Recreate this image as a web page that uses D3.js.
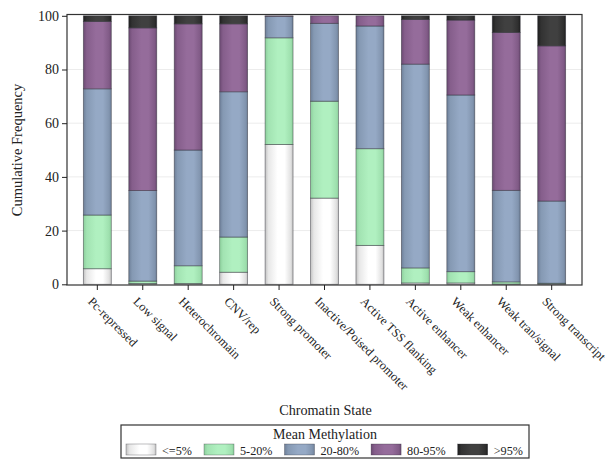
<!DOCTYPE html>
<html><head><meta charset="utf-8">
<script src="https://cdn.jsdelivr.net/npm/d3@7"></script>
<style>body{margin:0;background:#fff}svg{display:block}text{font-family:"Liberation Serif","DejaVu Serif",serif;fill:#222}</style>
</head><body><svg id="c" width="614" height="471"></svg>
<script>
const categories = ["Pc-repressed","Low signal","Heterochromain","CNV/rep","Strong promoter","Inactive/Poised promoter","Active TSS flanking","Active enhancer","Weak enhancer","Weak tran/signal","Strong transcript"];
const seriesNames = ["<=5%","5-20%","20-80%","80-95%",">95%"];
// percentages per methylation class (each bar sums to 100)
const le5   = [5.8, 0.3, 0.3, 4.5, 52.1, 32.1, 14.5, 0.5, 0.5, 0.1, 0.1];
const p5_20 = [20.0, 0.9, 6.6, 13.1, 39.7, 36.1, 36.0, 5.6, 4.2, 0.8, 0.3];
const p20_80= [47.0, 33.7, 43.1, 54.1, 8.0, 29.0, 45.7, 75.9, 65.8, 34.1, 30.6];
const p80_95= [25.1, 60.6, 47.0, 25.3, 0.2, 2.8, 3.8, 16.6, 27.9, 58.8, 57.8];
const gt95  = [2.1, 4.5, 3.0, 3.0, 0.0, 0.0, 0.0, 1.4, 1.6, 6.2, 11.2];
const yTicks = [0,20,40,60,80,100];
const seriesValues = [le5, p5_20, p20_80, p80_95, gt95];
const colors = [
  ["#c2c2c2","#ffffff"],
  ["#8ccf9c","#b0f0c0"],
  ["#6e8099","#95a9c5"],
  ["#6c4a73","#956c9b"],
  ["#1e1e1e","#404040"]
];

const svg = d3.select("#c");
const L=67, R=582, T=14.5, B=285;
const x = d3.scaleBand().domain(categories).range([L,R]).paddingInner(0.385).paddingOuter(0.36);
const y = d3.scaleLinear().domain([0,100]).range([284.3,15.8]);

const defs = svg.append("defs");
colors.forEach((c,i)=>{
  const g = defs.append("linearGradient").attr("id","g"+i).attr("x1","0").attr("x2","1").attr("y1","0").attr("y2","0");
  g.append("stop").attr("offset","0").attr("stop-color",c[0]);
  g.append("stop").attr("offset","0.12").attr("stop-color",d3.interpolateRgb(c[0],c[1])(0.6));
  g.append("stop").attr("offset","0.45").attr("stop-color",c[1]);
  g.append("stop").attr("offset","0.7").attr("stop-color",c[1]);
  g.append("stop").attr("offset","0.92").attr("stop-color",d3.interpolateRgb(c[0],c[1])(0.5));
  g.append("stop").attr("offset","1").attr("stop-color",c[0]);
});

// gridlines
svg.append("g").selectAll("line").data(yTicks.filter(d=>d>0&&d<100)).join("line")
  .attr("x1",L).attr("x2",R).attr("y1",d=>y(d)).attr("y2",d=>y(d))
  .attr("stroke","#ececec").attr("stroke-width",1);

// stacked
const rows = categories.map((c,i)=>{const o={cat:c}; seriesNames.forEach((s,j)=>o[s]=seriesValues[j][i]); return o;});
const stack = d3.stack().keys(seriesNames)(rows);
stack.forEach((layer,j)=>{
  svg.append("g").selectAll("rect").data(layer).join("rect")
    .attr("x",d=>x(d.data.cat)).attr("width",x.bandwidth())
    .attr("y",d=>y(d[1])).attr("height",d=>Math.max(0,y(d[0])-y(d[1])))
    .attr("fill","url(#g"+j+")")
    .attr("stroke",d=>(d[1]-d[0])>0.05?"rgba(40,40,50,0.55)":"none").attr("stroke-width",0.8);
});

// frame
svg.append("rect").attr("x",L).attr("y",T).attr("width",R-L).attr("height",B-T)
  .attr("fill","none").attr("stroke","#333").attr("stroke-width",1.2);

// y axis
const ya = svg.append("g").attr("transform",`translate(${L},0)`)
  .call(d3.axisLeft(y).tickValues(yTicks).tickSize(5).tickPadding(3));
ya.select(".domain").remove();
ya.selectAll("line").attr("stroke","#222");
ya.selectAll("text").attr("font-size",14).style("font-family","Liberation Serif").attr("fill","#222");

// x axis
const xa = svg.append("g").attr("transform",`translate(0,${B})`)
  .call(d3.axisBottom(x).tickSize(5).tickSizeOuter(0));
xa.select(".domain").remove();
xa.selectAll("line").attr("stroke","#222");
xa.selectAll("text").attr("font-size",12.5).style("font-family","Liberation Serif").attr("fill","#222")
  .attr("text-anchor","start").attr("y",0).attr("dy","0.7em")
  .attr("transform","translate(-4,11) rotate(45)");

// titles
const cx = (L+R)/2;
svg.append("text").attr("transform","translate(22,150) rotate(-90)").attr("text-anchor","middle")
  .attr("font-size",14.5).text("Cumulative Frequency");
svg.append("text").attr("x",cx+1).attr("y",415).attr("text-anchor","middle")
  .attr("font-size",14.2).text("Chromatin State");

// legend
const lg = svg.append("g");
lg.append("rect").attr("x",121).attr("y",425).attr("width",408).attr("height",33)
  .attr("fill","#fff").attr("stroke","#333").attr("stroke-width",1.2);
lg.append("text").attr("x",325).attr("y",439).attr("text-anchor","middle").attr("font-size",14).text("Mean Methylation");
let lx = 126;
seriesNames.forEach((s,i)=>{
  lg.append("rect").attr("x",lx).attr("y",444).attr("width",30).attr("height",11)
    .attr("fill","url(#g"+i+")").attr("stroke","rgba(40,40,50,0.5)").attr("stroke-width",0.6);
  const t = lg.append("text").attr("x",lx+36).attr("y",454.5).attr("font-size",12.2).text(s);
  lx += 36 + t.node().getComputedTextLength() + 12;
});
</script></body></html>
